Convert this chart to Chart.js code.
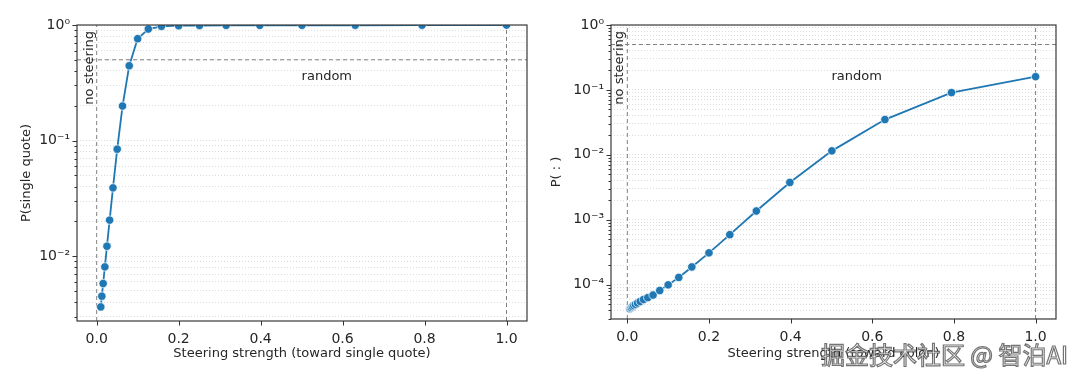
<!DOCTYPE html>
<html>
<head>
<meta charset="utf-8">
<title>Steering strength vs token probability</title>
<script src="https://cdn.jsdelivr.net/npm/chart.js"></script>
<style>
    html, body { margin: 0; padding: 0; background: #fff; }
    .panel { position: absolute; top: 0; width: 540px; height: 383px; }
    #leftPanel { left: 0; }
    #rightPanel { left: 540px; }
</style>
</head>
<body>
<div class="panel" id="leftPanel"><canvas id="quoteChart"></canvas></div>
<div class="panel" id="rightPanel"><canvas id="colonChart"></canvas></div>
<script>
    // values
    const quoteStrength = [0.01, 0.0126, 0.0158, 0.02, 0.0251, 0.0316, 0.0398, 0.0501, 0.0631, 0.0794, 0.1,
        0.126, 0.158, 0.2, 0.251, 0.316, 0.398, 0.501, 0.631, 0.794, 1.0];
    const quoteProb = [0.00364, 0.00451, 0.0058, 0.00808, 0.0122, 0.0205, 0.039, 0.0843, 0.199, 0.444, 0.761,
        0.923, 0.974, 0.986, 0.99, 0.992, 0.993, 0.994, 0.995, 0.996, 0.997];

    const colonStrength = [0.0063, 0.0079, 0.01, 0.0126, 0.0158, 0.02, 0.0251, 0.0316, 0.0398, 0.0501, 0.0631,
        0.0794, 0.1, 0.126, 0.158, 0.2, 0.251, 0.316, 0.398, 0.501, 0.631, 0.794, 1.0];
    const colonProb = [4.25e-5, 4.35e-5, 4.45e-5, 4.6e-5, 4.75e-5, 4.95e-5, 5.2e-5, 5.5e-5, 5.9e-5, 6.3e-5, 6.9e-5,
        8.1e-5, 9.9e-5, 1.29e-4, 1.87e-4, 3.08e-4, 5.88e-4, 1.36e-3, 3.75e-3, 1.15e-2, 3.49e-2, 9.09e-2, 0.16];

    const xTicks = [0, 0.2, 0.4, 0.6, 0.8, 1.0];
    const quoteDecades = [0.01, 0.1, 1];
    const quoteDecadeLabels = ['10⁻²', '10⁻¹', '10⁰'];
    const colonDecades = [1e-4, 1e-3, 1e-2, 1e-1, 1];
    const colonDecadeLabels = ['10⁻⁴', '10⁻³', '10⁻²', '10⁻¹', '10⁰'];

    const noSteering = 0;
    const fullSteering = 1;
    const randomLevel = 0.5;

    const blue = '#1f77b4';
    const ink = '#262626';
    const refGrey = '#808080';

    Chart.defaults.font.family = "'DejaVu Sans', sans-serif";
    Chart.defaults.font.size = 13;
    Chart.defaults.color = ink;

    // 1..9 x 10^k ticks between min and max (matplotlib style minor ticks)
    function logTicks(min, max) {
        const out = [];
        for (let e = Math.floor(Math.log10(min)); e <= Math.ceil(Math.log10(max)); e++) {
            for (let m = 1; m <= 9; m++) {
                const v = Number((m * Math.pow(10, e)).toPrecision(6));
                if (v >= min && v <= max) out.push(v);
            }
        }
        return out;
    }

    function isDecade(v) {
        const l = Math.log10(v);
        return Math.abs(l - Math.round(l)) < 1e-9;
    }

    const decor = {
        id: 'decor',
        afterDraw(chart, args, opts) {
            const ctx = chart.ctx;
            const a = chart.chartArea;
            const xs = chart.scales.x;
            const ys = chart.scales.y;
            ctx.save();

            // tick marks
            ctx.strokeStyle = '#333';
            ctx.lineWidth = 1;
            ys.ticks.forEach(t => {
                const py = Math.round(ys.getPixelForValue(t.value)) + 0.5;
                const len = isDecade(t.value) ? 4.5 : 2.5;
                ctx.beginPath();
                ctx.moveTo(a.left, py);
                ctx.lineTo(a.left - len, py);
                ctx.stroke();
            });
            xs.ticks.forEach(t => {
                const px = Math.round(xs.getPixelForValue(t.value)) + 0.5;
                ctx.beginPath();
                ctx.moveTo(px, a.bottom);
                ctx.lineTo(px, a.bottom + 4.5);
                ctx.stroke();
            });

            // frame
            ctx.strokeStyle = '#3a3a3a';
            ctx.lineWidth = 1.2;
            ctx.strokeRect(a.left, a.top, a.right - a.left, a.bottom - a.top);

            // annotations
            ctx.fillStyle = ink;
            ctx.font = "13px 'DejaVu Sans'";
            ctx.textAlign = 'left';
            ctx.textBaseline = 'middle';
            ctx.fillText('random', xs.getPixelForValue(randomLevel), a.top + 0.176 * (a.bottom - a.top));

            ctx.save();
            ctx.translate(xs.getPixelForValue(noSteering) - 1, a.top + 6);
            ctx.rotate(-Math.PI / 2);
            ctx.textAlign = 'right';
            ctx.textBaseline = 'bottom';
            ctx.fillText('no steering', 0, 0);
            ctx.restore();

            if (opts.mark) {
                ctx.font = "24px 'Noto Sans CJK SC'";
                ctx.textAlign = 'right';
                ctx.textBaseline = 'middle';
                ctx.lineWidth = 1.2;
                ctx.strokeStyle = 'rgba(70,70,70,0.75)';
                ctx.fillStyle = 'rgba(255,255,255,0.9)';
                ctx.fillText(opts.mark, chart.width - 12, 355);
                ctx.strokeText(opts.mark, chart.width - 12, 355);
            }
            ctx.restore();
        }
    };

    function buildChart(id, cfg) {
        const yTicks = logTicks(cfg.yMin, 1);
        const refLine = (pts) => ({
            data: pts,
            borderColor: refGrey,
            borderWidth: 1,
            borderDash: [4, 3],
            pointRadius: 0,
            order: 1,
            clip: 0
        });
        return new Chart(document.getElementById(id), {
            type: 'line',
            data: {
                datasets: [
                    {
                        data: cfg.xs.map((x, i) => ({x: x, y: cfg.ys[i]})),
                        borderColor: blue,
                        backgroundColor: blue,
                        borderWidth: 1.8,
                        pointRadius: 4.2,
                        pointBackgroundColor: blue,
                        pointBorderColor: '#fff',
                        pointBorderWidth: 0.7,
                        tension: 0,
                        order: 0,
                        clip: 0
                    },
                    refLine([{x: noSteering, y: cfg.yMin}, {x: noSteering, y: 1}]),
                    refLine([{x: fullSteering, y: cfg.yMin}, {x: fullSteering, y: 1}]),
                    refLine([{x: cfg.xMin, y: randomLevel}, {x: 1.05, y: randomLevel}])
                ]
            },
            options: {
                responsive: true,
                maintainAspectRatio: false,
                animation: false,
                events: [],
                layout: { padding: { left: 0, right: cfg.padRight, top: 25, bottom: 0 } },
                plugins: {
                    legend: { display: false },
                    tooltip: { enabled: false },
                    decor: { mark: cfg.mark }
                },
                scales: {
                    x: {
                        type: 'linear',
                        min: cfg.xMin,
                        max: 1.05,
                        afterBuildTicks: s => { s.ticks = xTicks.map(v => ({value: v})); },
                        afterFit: s => { s.height = cfg.xAxisHeight; },
                        ticks: {
                            callback: v => v.toFixed(1),
                            autoSkip: false,
                            maxRotation: 0,
                            padding: 2,
                            font: { size: 14 }
                        },
                        grid: { display: false },
                        border: { display: false },
                        title: { display: true, text: cfg.xTitle, padding: { top: 0, bottom: 22 } }
                    },
                    y: {
                        type: 'logarithmic',
                        min: cfg.yMin,
                        max: 1,
                        afterBuildTicks: s => { s.ticks = yTicks.map(v => ({value: v, major: isDecade(v)})); },
                        afterFit: s => { s.width = cfg.yAxisWidth; },
                        ticks: {
                            autoSkip: false,
                            padding: 7,
                            font: { size: 14 },
                            callback: v => {
                                const i = cfg.decades.findIndex(d => Math.abs(Math.log10(d) - Math.log10(v)) < 1e-6);
                                return i >= 0 ? cfg.decadeLabels[i] : '';
                            }
                        },
                        grid: { color: '#d4d4d4', lineWidth: 0.8, drawTicks: false },
                        border: { display: false, dash: [1, 2] },
                        title: { display: true, text: cfg.yTitle, padding: { top: cfg.yTitlePad, bottom: 0 } }
                    }
                }
            },
            plugins: [decor]
        });
    }

    buildChart('quoteChart', {
        xs: quoteStrength, ys: quoteProb,
        xMin: -0.048, yMin: 2.75e-3,
        decades: quoteDecades, decadeLabels: quoteDecadeLabels,
        xTitle: 'Steering strength (toward single quote)',
        yTitle: 'P(single quote)',
        yAxisWidth: 77, xAxisHeight: 62, padRight: 13, yTitlePad: 19
    });

    buildChart('colonChart', {
        xs: colonStrength, ys: colonProb,
        xMin: -0.04, yMin: 2.95e-5,
        decades: colonDecades, decadeLabels: colonDecadeLabels,
        xTitle: 'Steering strength (toward colon)',
        yTitle: 'P( : )',
        yAxisWidth: 71, xAxisHeight: 64, padRight: 24, yTitlePad: 9,
        mark: '掘金技术社区 @ 智泊AI'
    });
</script>
</body>
</html>
